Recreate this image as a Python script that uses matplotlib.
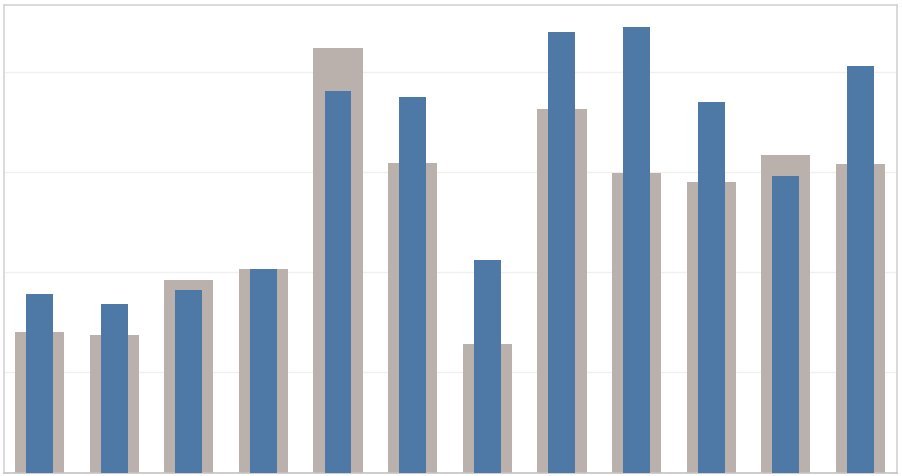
import matplotlib
matplotlib.use("Agg")
import matplotlib.pyplot as plt
import numpy as np

categories = [f"C{i}" for i in range(1, 13)]
gray_values = [1.40, 1.37, 1.92, 2.03, 4.24, 3.09, 1.28, 3.63, 2.99, 2.90, 3.17, 3.08]
blue_values = [1.78, 1.68, 1.82, 2.03, 3.81, 3.75, 2.12, 4.40, 4.45, 3.70, 2.96, 4.06]

W, H = 902, 477
fig = plt.figure(figsize=(W / 100, H / 100), dpi=100)
ax = fig.add_axes([4 / W, 3.5 / H, 893 / W, 468 / H])

x = np.arange(len(categories))
ax.bar(x, gray_values, width=0.66, color="#BAB0AC", zorder=2)
ax.bar(x, blue_values, width=0.36, color="#4E79A7", zorder=3)

ax.set_xlim(-0.476, 11.49)
ax.set_ylim(0, 4.67)
ax.set_yticks([1, 2, 3, 4])
ax.yaxis.grid(True, color="#f0f0f0", linewidth=1, zorder=0)
ax.set_xticks([])
ax.tick_params(left=False, labelleft=False, bottom=False, labelbottom=False)
for s in ["left", "top", "right"]:
    ax.spines[s].set_color("#d4d4d4")
    ax.spines[s].set_linewidth(1.2)
ax.spines["bottom"].set_color("#c4c4c4")
ax.spines["bottom"].set_linewidth(1.2)

fig.savefig("out.png", dpi=100)
